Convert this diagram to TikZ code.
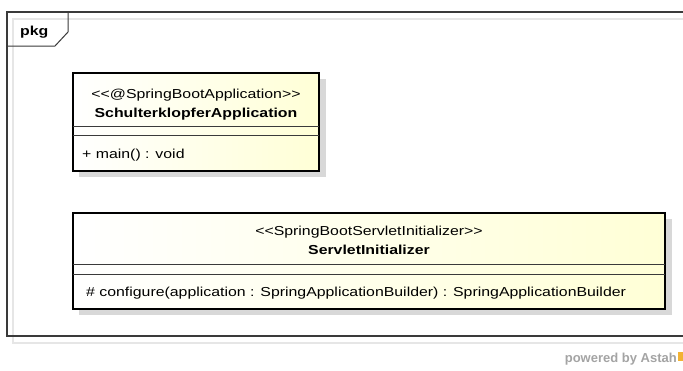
\documentclass[tikz,border=0pt]{standalone}
\usepackage{fontspec}
\setmainfont{Liberation Sans}
\newfontfamily\umlfont[FakeStretch=1.22]{Liberation Sans}
\usetikzlibrary{positioning}
\definecolor{FrameLine}{HTML}{3A3A3A}
\definecolor{FrameShade}{HTML}{E6E6E6}
\definecolor{BoxShade}{HTML}{D8D8D8}
\definecolor{Cream}{HTML}{FFFFD6}
\definecolor{Astah}{HTML}{A4A4A4}
\definecolor{AstahMark}{HTML}{F2B233}
\begin{document}
\begin{tikzpicture}[x=1pt,y=-1pt,font=\umlfont\fontsize{13}{15}\selectfont,
  classbox/.style={draw=black,line width=1.7pt,left color=white,right color=Cream},
  classshade/.style={fill=BoxShade},
  sepline/.style={draw=FrameLine,line width=0.8pt},
  stereo/.style={inner sep=0pt,anchor=base},
  cname/.style={inner sep=0pt,anchor=base,font=\umlfont\fontsize{13}{15}\selectfont\bfseries},
  member/.style={inner sep=0pt,anchor=base west}]
\useasboundingbox (0,0) rectangle (683,370);
\fill[white] (0,0) rectangle (683,370);
% package frame
\draw[FrameShade,line width=1.2pt] (683,19) -- (13,19) -- (13,343) -- (683,343);
\draw[FrameLine,line width=1.2pt] (683,12) -- (7,12) -- (7,336) -- (683,336);
\draw[FrameLine,line width=1pt] (7,46) -- (55,46) -- (68,32) -- (68,12);
\node[inner sep=0pt,anchor=base west,font=\umlfont\fontsize{13}{15}\selectfont\bfseries] (pkg) at (20,35) {pkg};
% SchulterklopferApplication
\fill[classshade] (79,79) rectangle (326,177);
\draw[classbox] (73,73) rectangle (319,171);
\draw[sepline] (73,126) -- (319,126);
\draw[sepline] (73,135) -- (319,135);
\node[stereo] (appst) at (196,98) {<{}<@SpringBootApplication>{}>};
\node[cname] (appname) at (196,117) {SchulterklopferApplication};
\node[member] (appmain) at (82,158) {+ main() : void};
% ServletInitializer
\fill[classshade] (79,219) rectangle (672,315);
\draw[classbox] (73,213) rectangle (665,309);
\draw[sepline] (73,264) -- (665,264);
\draw[sepline] (73,274) -- (665,274);
\node[stereo] (srvst) at (369,235) {<{}<SpringBootServletInitializer>{}>};
\node[cname] (srvname) at (369,254) {ServletInitializer};
\node[member] (srvcfg) at (86,296) {\# configure(application : SpringApplicationBuilder) : SpringApplicationBuilder};
% footer
\node[inner sep=0pt,anchor=base east,text=Astah,font=\fontsize{13}{15}\selectfont\bfseries] (astah) at (677,362) {powered by Astah};
\fill[AstahMark] (astah.base east) ++(0.5,-1) rectangle ++(5,-9);
\end{tikzpicture}
\end{document}
